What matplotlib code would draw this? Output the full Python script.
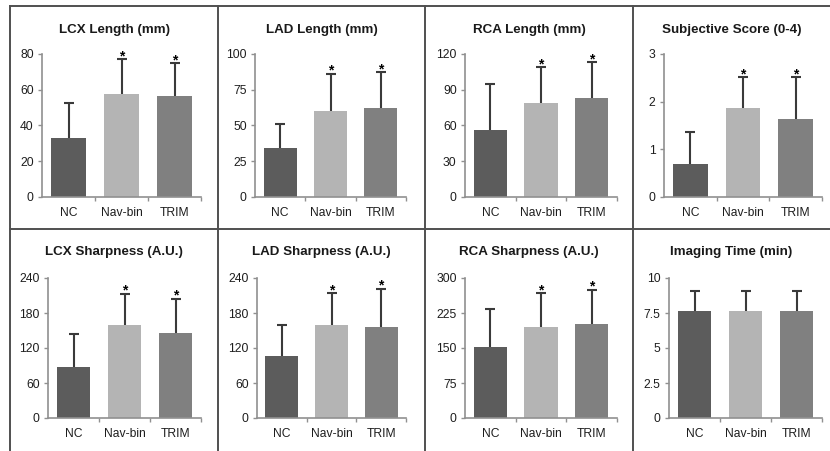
import matplotlib
matplotlib.use("Agg")
import matplotlib.pyplot as plt
from matplotlib.lines import Line2D

plt.rcParams['font.family'] = ['Liberation Sans', 'DejaVu Sans']

categories = ["NC", "Nav-bin", "TRIM"]

titles = ["LCX Length (mm)", "LAD Length (mm)", "RCA Length (mm)", "Subjective Score (0-4)",
          "LCX Sharpness (A.U.)", "LAD Sharpness (A.U.)", "RCA Sharpness (A.U.)", "Imaging Time (min)"]

lcx_len_mean = [33.1, 57.5, 56.6]
lcx_len_sd = [19.3, 19.8, 18.3]
lad_len_mean = [34.4, 60.2, 62.1]
lad_len_sd = [16.4, 26.0, 25.0]
rca_len_mean = [56.2, 78.7, 82.9]
rca_len_sd = [38.5, 30.1, 30.1]
score_mean = [0.69, 1.86, 1.64]
score_sd = [0.67, 0.65, 0.87]
lcx_sharp_mean = [86.9, 158.9, 145.7]
lcx_sharp_sd = [57.1, 54.1, 58.9]
lad_sharp_mean = [106.9, 158.9, 156.0]
lad_sharp_sd = [53.1, 55.1, 65.7]
rca_sharp_mean = [152.0, 195.0, 201.4]
rca_sharp_sd = [82.0, 73.0, 73.6]
time_mean = [7.62, 7.62, 7.62]
time_sd = [1.43, 1.43, 1.43]

significant = [[False, True, True]] * 7 + [[False, False, False]]

yticks = [[0, 20, 40, 60, 80], [0, 25, 50, 75, 100], [0, 30, 60, 90, 120], [0, 1, 2, 3],
          [0, 60, 120, 180, 240], [0, 60, 120, 180, 240], [0, 75, 150, 225, 300],
          [0, 2.5, 5, 7.5, 10]]
ytick_labels = [["0", "20", "40", "60", "80"], ["0", "25", "50", "75", "100"],
                ["0", "30", "60", "90", "120"], ["0", "1", "2", "3"],
                ["0", "60", "120", "180", "240"], ["0", "60", "120", "180", "240"],
                ["0", "75", "150", "225", "300"], ["0", "2.5", "5", "7.5", "10"]]

means = [lcx_len_mean, lad_len_mean, rca_len_mean, score_mean,
         lcx_sharp_mean, lad_sharp_mean, rca_sharp_mean, time_mean]
sds = [lcx_len_sd, lad_len_sd, rca_len_sd, score_sd,
       lcx_sharp_sd, lad_sharp_sd, rca_sharp_sd, time_sd]

bar_colors = ["#5c5c5c", "#b4b4b4", "#808080"]

W, H = 830, 451
fig = plt.figure(figsize=(W / 100, H / 100), dpi=100)
fig.patch.set_facecolor("white")

x_ranges = [(42, 201), (255, 406), (465, 617), (664, 822),
            (48, 201), (257, 406), (465, 617), (669, 822)]
row_y = [(54, 197), (278, 418)]
panel_x = [(10, 218), (218, 425), (425, 633), (633, 830)]
title_y = [30, 252]

for i in range(8):
    r, c = divmod(i, 4)
    xl, xr = x_ranges[i]
    yt, yb = row_y[r]
    ax = fig.add_axes([xl / W, 1 - yb / H, (xr - xl) / W, (yb - yt) / H])
    x = list(range(3))
    # error bars drawn behind the bars so only the upper part shows
    ax.errorbar(x, means[i], yerr=sds[i], fmt="none", ecolor="#3a3a3a",
                elinewidth=1.5, capsize=3.5, capthick=1.5, zorder=1)
    ax.bar(x, means[i], width=0.66, color=bar_colors, zorder=2)
    top = yticks[i][-1]
    for j in range(3):
        if significant[i][j]:
            ax.annotate("*", (x[j], means[i][j] + sds[i][j]), xytext=(0, -3),
                        textcoords="offset points", ha="center", va="bottom",
                        fontsize=10, fontweight="bold", color="black", zorder=4)
    ax.set_xlim(-0.5, 2.5)
    ax.set_ylim(0, top)
    ax.set_yticks(yticks[i])
    ax.set_yticklabels(ytick_labels[i])
    ax.set_xticks(x)
    ax.set_xticklabels(categories)
    ax.set_xticks([0.5, 1.5, 2.5], minor=True)
    ax.tick_params(axis="x", which="major", length=0, pad=7, labelsize=8.7, labelcolor="#1e1e1e")
    ax.tick_params(axis="x", which="minor", length=3, color="#909090", width=1)
    ax.tick_params(axis="y", length=3, color="#909090", width=1, pad=3,
                   labelsize=8.7, labelcolor="#1e1e1e")
    for s in ["top", "right"]:
        ax.spines[s].set_visible(False)
    for s in ["left", "bottom"]:
        ax.spines[s].set_color("#909090")
        ax.spines[s].set_linewidth(1.2)
    ax.patch.set_alpha(0)
    px0, px1 = panel_x[c]
    fig.text((px0 + px1) / 2 / W, 1 - title_y[r] / H, titles[i], ha="center", va="center",
             fontsize=9.6, fontweight="bold", color="#1a1a1a")

lc = "#505050"
lw = 1.4
def hline(y, x0, x1):
    fig.add_artist(Line2D([x0 / W, x1 / W], [1 - y / H, 1 - y / H], color=lc, lw=lw))
def vline(x, y0, y1):
    fig.add_artist(Line2D([x / W, x / W], [1 - y0 / H, 1 - y1 / H], color=lc, lw=lw))

hline(6, 10, 830)
hline(229, 10, 830)
for xv in [10, 218, 425, 633]:
    vline(xv, 6, 451)

fig.savefig("out.png", dpi=100, facecolor="white")
